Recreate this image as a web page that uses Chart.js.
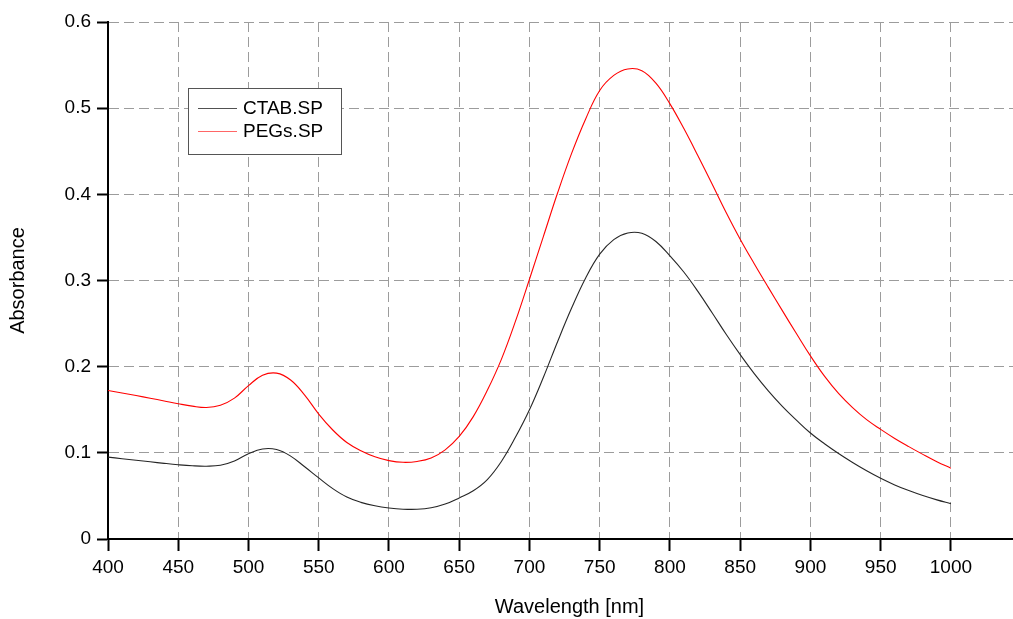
<!DOCTYPE html>
<html>
<head>
<meta charset="utf-8">
<script src="https://cdn.jsdelivr.net/npm/chart.js@4/dist/chart.umd.min.js"></script>
<style>
  html, body { margin: 0; padding: 0; background: #fff; overflow: hidden; }
  #wrap { width: 1013px; height: 619px; overflow: hidden; }
</style>
</head>
<body>
<div id="wrap"><canvas id="spectra" width="1031" height="619"></canvas></div>
<script>
// wavelength grid (nm), 10 nm steps
const wavelengths = [400, 410, 420, 430, 440, 450, 460, 470, 480, 490,
  500, 510, 520, 530, 540, 550, 560, 570, 580, 590,
  600, 610, 620, 630, 640, 650, 660, 670, 680, 690,
  700, 710, 720, 730, 740, 750, 760, 770, 780, 790,
  800, 810, 820, 830, 840, 850, 860, 870, 880, 890,
  900, 910, 920, 930, 940, 950, 960, 970, 980, 990, 1000];

// absorbance, CTAB coated particles
const ctabSP = [0.0950, 0.0932, 0.0914, 0.0896, 0.0878, 0.0862, 0.0850, 0.0845, 0.0855, 0.0905,
  0.0990, 0.1045, 0.1038, 0.0962, 0.0838, 0.0709, 0.0585, 0.0487, 0.0425, 0.0385,
  0.0360, 0.0346, 0.0345, 0.0362, 0.0405, 0.0477, 0.0560, 0.0690, 0.0900, 0.1180,
  0.1500, 0.1880, 0.2290, 0.2680, 0.3030, 0.3306, 0.3475, 0.3552, 0.3548, 0.3452,
  0.3286, 0.3096, 0.2871, 0.2626, 0.2376, 0.2140, 0.1920, 0.1720, 0.1540, 0.1380,
  0.1230, 0.1105, 0.0992, 0.0888, 0.0792, 0.0705, 0.0628, 0.0562, 0.0504, 0.0454, 0.0410];

// absorbance, PEG coated particles
const pegsSP = [0.1724, 0.1695, 0.1665, 0.1634, 0.1602, 0.1570, 0.1542, 0.1526, 0.1552, 0.1635,
  0.1780, 0.1900, 0.1925, 0.1845, 0.1670, 0.1450, 0.1265, 0.1120, 0.1025, 0.0955,
  0.0910, 0.0890, 0.0900, 0.0940, 0.1035, 0.1190, 0.1420, 0.1725, 0.2085, 0.2525,
  0.3015, 0.3515, 0.4015, 0.4475, 0.4875, 0.5205, 0.5380, 0.5455, 0.5435, 0.5290,
  0.5050, 0.4760, 0.4445, 0.4120, 0.3790, 0.3480, 0.3195, 0.2920, 0.2650, 0.2385,
  0.2125, 0.1890, 0.1690, 0.1525, 0.1385, 0.1272, 0.1167, 0.1072, 0.0982, 0.0897, 0.0822];

const seriesNames = ['CTAB.SP', 'PEGs.SP'];
const seriesColors = ['#262626', '#ff0000'];

const FONT = "'Liberation Sans', Arial, sans-serif";

const toPoints = (ys) => wavelengths.map((x, i) => ({ x: x, y: ys[i] }));

// boxed legend drawn inside the plot area
const boxLegend = {
  id: 'boxLegend',
  afterDatasetsDraw(chart, args, opts) {
    const { ctx, chartArea } = chart;
    const x0 = chartArea.left + opts.x;
    const y0 = chartArea.top + opts.y;
    ctx.save();
    ctx.fillStyle = '#fff';
    ctx.fillRect(x0, y0, opts.width, opts.height);
    ctx.strokeStyle = '#555';
    ctx.lineWidth = 1;
    ctx.strokeRect(x0 + 0.5, y0 + 0.5, opts.width, opts.height);
    ctx.font = opts.fontSize + 'px ' + FONT;
    ctx.textBaseline = 'middle';
    chart.data.datasets.forEach((ds, i) => {
      const y = y0 + opts.firstRow + i * opts.rowGap;
      ctx.strokeStyle = ds.borderColor;
      ctx.globalAlpha = i === 1 ? 0.6 : 0.8;
      ctx.beginPath();
      ctx.moveTo(x0 + 10, y + 0.5);
      ctx.lineTo(x0 + 10 + opts.lineLen, y + 0.5);
      ctx.stroke();
      ctx.globalAlpha = 1;
      ctx.fillStyle = '#000';
      ctx.fillText(ds.label, x0 + 16 + opts.lineLen, y + 1);
    });
    ctx.restore();
  }
};

new Chart(document.getElementById('spectra').getContext('2d'), {
  type: 'line',
  data: {
    datasets: [
      { label: seriesNames[0], data: toPoints(ctabSP), borderColor: seriesColors[0], borderWidth: 1.1 },
      { label: seriesNames[1], data: toPoints(pegsSP), borderColor: seriesColors[1], borderWidth: 1.1 },
    ]
  },
  options: {
    responsive: false,
    animation: false,
    devicePixelRatio: 1,
    layout: { padding: { top: 22, right: 0, bottom: 0, left: 0 } },
    elements: {
      point: { radius: 0 },
      line: { tension: 0.4, fill: false }
    },
    plugins: {
      legend: { display: false },
      tooltip: { enabled: false },
      boxLegend: { x: 80, y: 66, width: 153, height: 66, lineLen: 39, firstRow: 20, rowGap: 23, fontSize: 19 }
    },
    scales: {
      x: {
        type: 'linear',
        min: 400,
        max: 1057,
        afterBuildTicks: (scale) => { scale.ticks = scale.ticks.filter(t => t.value <= 1000); },
        afterFit: (scale) => { scale.height = 80; },
        ticks: {
          stepSize: 50,
          color: '#000',
          padding: 5,
          maxRotation: 0,
          font: { family: FONT, size: 19 },
          callback: (v) => String(Math.round(v))
        },
        grid: { color: '#9c9c9c', lineWidth: 1, tickLength: 12, tickColor: '#000', tickWidth: 2, tickBorderDash: [] },
        border: { display: true, color: '#000', width: 2, dash: [10, 5] },
        title: { display: true, text: 'Wavelength [nm]', color: '#000', font: { family: FONT, size: 20 }, padding: { top: 6, bottom: 0 } }
      },
      y: {
        min: 0,
        max: 0.6,
        afterFit: (scale) => { scale.width = 108; },
        ticks: {
          stepSize: 0.1,
          color: '#000',
          padding: 6,
          font: { family: FONT, size: 19 },
          callback: (v) => (v === 0 ? '0' : v.toFixed(1))
        },
        grid: { color: '#9c9c9c', lineWidth: 1, tickLength: 11, tickColor: '#000', tickWidth: 2, tickBorderDash: [] },
        border: { display: true, color: '#000', width: 2, dash: [10, 5] },
        title: { display: true, text: 'Absorbance', color: '#000', font: { family: FONT, size: 20 }, padding: { top: 6, bottom: 0 } }
      }
    }
  },
  plugins: [boxLegend]
});
</script>
</body>
</html>
